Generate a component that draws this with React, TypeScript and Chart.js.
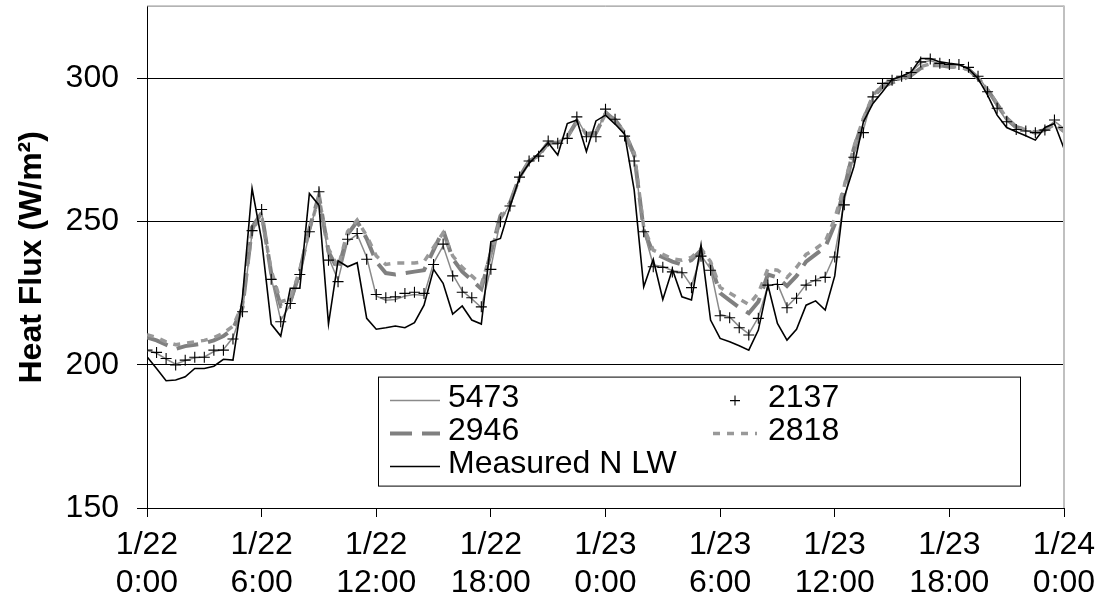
import React, { useEffect, useRef } from 'react';
import { Chart, registerables } from 'chart.js';

Chart.register(...registerables);

// time step between samples (hours), starting 1/22 0:00
const STEP_HOURS = 0.5;

const series5473 = [
  205, 204, 202, 200.2, 201.5, 202.4, 202.7, 204.6, 205.3, 209.5,
  219, 246, 253.5, 230.5, 215.5, 221, 231, 246, 259.5, 237.5,
  229.5, 243, 245.5, 237.5, 224, 222.5, 222.8, 224, 224.5, 224.2,
  235.5, 241.5, 231.5, 225.8, 223, 220, 233.8, 250.5, 256, 265.2,
  271, 272.5, 277.8, 277.6, 279.3, 286, 280, 280.2, 288.7, 285.8,
  280.2, 272, 246.8, 234.8, 234.3, 232.8, 232.4, 227.5, 238.2, 233.4,
  217.5, 216.7, 213.3, 210.8, 216.5, 227.5, 228.3, 220.3, 223.6, 228.1,
  229.6, 230.9, 238.5, 257, 273.5, 282, 294, 298, 299.5, 300.6,
  302.2, 305.3, 306.2, 305, 304.6, 304.5, 303.6, 300.8, 295.8, 290,
  285.2, 282.3, 281.7, 281.1, 282, 285, 282.5,
];

const series2137 = [
  205.1, 204.3, 202.2, 199.9, 201.6, 202.6, 202.6, 205.1, 205.1, 209,
  218.5, 246.8, 254.2, 229.8, 215, 221.4, 231.5, 246.4, 260.4, 236.5,
  229, 243.8, 245.8, 236.8, 224.5, 223.4, 223.7, 224.9, 225.3, 224.9,
  235, 242.1, 231, 225.3, 223.4, 220.2, 233.3, 249.9, 255.4, 265.5,
  271.1, 272.8, 278.1, 277.3, 279, 286.5, 279.6, 279.6, 289.2, 285.7,
  279.8, 271.1, 246.4, 234.2, 234, 232.4, 232.1, 226.9, 237.9, 233,
  217.1, 216.4, 212.9, 210.4, 216.2, 227.8, 228, 219.9, 223.2, 227.8,
  229.3, 230.5, 237.6, 255.8, 272.4, 281, 293.5, 298.2, 299.3, 300.7,
  302, 305.7, 306.7, 305.2, 304.8, 304.8, 303.8, 300.7, 295.3, 289.5,
  284.8, 282.1, 281.6, 281, 281.9, 285.4, 282.8,
];

const series2946 = [
  209.5, 208.5, 207, 205.5, 206.5, 207, 207.5, 208.5, 210, 212.5,
  220, 248, 253, 232, 220.5, 222, 232.5, 247.5, 259, 239.5,
  233, 245.5, 250, 244, 236, 232, 231.5, 232, 232.5, 233,
  240, 247, 237, 232.5, 229.5, 226.5, 239, 252, 256.5, 265.5,
  271, 273, 277.5, 277.5, 279.5, 285, 280.5, 281, 287.5, 285.5,
  281, 273.5, 247, 239, 237.5, 236, 235, 236.5, 240, 235,
  225, 222.5, 220, 218, 222, 231.5, 230.5, 227.5, 231, 236,
  238.5, 241, 249, 261.5, 275.5, 285.5, 293.5, 297, 298.5, 299.5,
  301, 303.5, 304.5, 304.5, 304, 304, 303, 300, 296, 291,
  286, 283, 282, 281, 282, 284, 281.5,
];

const series2818 = [
  210.5, 209.5, 208, 207, 207.5, 208, 208.5, 209.5, 211, 213.5,
  221, 247, 252, 233, 222, 223, 233, 247, 258.5, 240.5,
  234, 246.5, 250.5, 245, 238, 235, 235.5, 235.5, 235.5, 236,
  241, 246, 238, 234, 231, 228, 239, 251, 256, 265.5,
  271, 273, 277.5, 277.5, 279.5, 285, 280.5, 281, 287.5, 285.5,
  281, 274, 248, 240, 238.5, 237, 236.5, 237.5, 240.5, 236,
  227, 225, 223, 221, 225, 233.5, 233, 230.5, 234, 238.5,
  240.5, 243, 251, 262.5, 276, 286, 294, 297.5, 299, 300,
  301.5, 304, 305, 304.5, 304, 304, 303, 300, 296, 291,
  286, 283, 282, 281, 282, 284, 281.5,
];

const measuredNLW = [
  202.8, 198.7, 194.4, 194.7, 195.8, 198.7, 198.7, 199.5, 201.9, 201.6,
  223.7, 261.5, 243.5, 214.2, 210, 226.7, 226.7, 259.8, 255.7, 214.2,
  236.3, 234.2, 235.6, 216.2, 212.4, 212.9, 213.5, 212.9, 214.7, 220.8,
  233.3, 228.4, 217.7, 220.5, 215.6, 214.2, 242.9, 244.1, 255.1, 265.3,
  270.3, 273.8, 277.5, 273.2, 284.2, 285.4, 274.4, 285.1, 287.1, 284,
  280.5, 261, 227.2, 236.8, 222.8, 233.3, 223.7, 222.6, 241.8, 215.6,
  209.2, 208, 206.6, 205.1, 212.1, 227.8, 214.4, 208.6, 212.4, 220.8,
  222.3, 219.1, 231, 258.6, 269.1, 284.8, 291.2, 295.3, 299.6, 300.7,
  302.2, 306.9, 306.9, 305.7, 305.2, 304.8, 303.3, 299.9, 294.1, 287.1,
  282.8, 281.3, 279.9, 278.4, 282.8, 284.2, 275.5,
];

const xTickDates = ['1/22', '1/22', '1/22', '1/22', '1/23', '1/23', '1/23', '1/23', '1/24'];
const xTickTimes = ['0:00', '6:00', '12:00', '18:00', '0:00', '6:00', '12:00', '18:00', '0:00'];
const X_TICK_STEP = 6;
const Y_MIN = 150;
const Y_MAX = 325;
const Y_STEP = 50;

const FONT = "'Liberation Sans', Arial, Helvetica, sans-serif";

const toPoints = (vals: number[]) => vals.map((v, i) => ({ x: i * STEP_HOURS, y: v }));

type LegendItem = {
  label: string;
  col: number;
  row: number;
  kind: 'line' | 'cross';
  color: string;
  width: number;
  dash: number[];
};

const legendItems: LegendItem[] = [
  { label: '5473', col: 0, row: 0, kind: 'line', color: '#8a8a8a', width: 1.5, dash: [] },
  { label: '2137', col: 1, row: 0, kind: 'cross', color: '#000000', width: 1.1, dash: [] },
  { label: '2946', col: 0, row: 1, kind: 'line', color: '#808080', width: 4, dash: [22, 10] },
  { label: '2818', col: 1, row: 1, kind: 'line', color: '#999999', width: 3.5, dash: [7, 7] },
  { label: 'Measured N LW', col: 0, row: 2, kind: 'line', color: '#000000', width: 1.5, dash: [] },
];

const framePlugin = {
  id: 'frameAndLegend',
  afterDraw(chart: any) {
    const { ctx, chartArea } = chart;
    const { left, top, right, bottom } = chartArea;
    ctx.save();
    // top border
    ctx.strokeStyle = '#808080';
    ctx.lineWidth = 1;
    ctx.beginPath();
    ctx.moveTo(left, top - 0.5);
    ctx.lineTo(right, top - 0.5);
    ctx.stroke();
    // right border
    ctx.strokeStyle = '#c0c0c0';
    ctx.lineWidth = 2;
    ctx.beginPath();
    ctx.moveTo(right, top - 1);
    ctx.lineTo(right, bottom);
    ctx.stroke();

    // legend box
    const bx = left + 231;
    const by = top + 370;
    const bw = 642;
    const bh = 109;
    ctx.fillStyle = '#ffffff';
    ctx.fillRect(bx, by, bw, bh);
    ctx.strokeStyle = '#000000';
    ctx.lineWidth = 1;
    ctx.strokeRect(bx + 0.5, by + 0.5, bw, bh);

    const rowY = [22, 55, 88];
    const cols = [
      { s0: 12, s1: 62, tx: 70 },
      { s0: 335, s1: 379, tx: 390 },
    ];
    ctx.font = `32px ${FONT}`;
    ctx.textBaseline = 'middle';
    ctx.textAlign = 'left';
    for (const it of legendItems) {
      const c = cols[it.col];
      const y = by + rowY[it.row];
      if (it.kind === 'line') {
        ctx.strokeStyle = it.color;
        ctx.lineWidth = it.width;
        ctx.setLineDash(it.dash);
        ctx.beginPath();
        ctx.moveTo(bx + c.s0, y + 2);
        ctx.lineTo(bx + c.s1, y + 2);
        ctx.stroke();
        ctx.setLineDash([]);
      } else {
        const cx = bx + (c.s0 + c.s1) / 2;
        ctx.strokeStyle = it.color;
        ctx.lineWidth = it.width;
        ctx.beginPath();
        ctx.moveTo(cx - 5, y + 2);
        ctx.lineTo(cx + 5, y + 2);
        ctx.moveTo(cx, y - 3);
        ctx.lineTo(cx, y + 7);
        ctx.stroke();
      }
      ctx.fillStyle = '#000000';
      ctx.fillText(it.label, bx + c.tx, y);
    }
    ctx.restore();
  },
};

export default function App() {
  const canvasRef = useRef<HTMLCanvasElement>(null);

  useEffect(() => {
    const canvas = canvasRef.current;
    if (!canvas) return;
    const chart = new Chart(canvas, {
      type: 'line',
      data: {
        datasets: [
          {
            label: '2137',
            data: toPoints(series2137),
            showLine: false,
            pointStyle: 'cross',
            pointRadius: 5.5,
            pointBorderColor: '#000000',
            pointBorderWidth: 1.1,
            borderColor: '#000000',
            backgroundColor: '#000000',
          },
          {
            label: 'Measured N LW',
            data: toPoints(measuredNLW),
            borderColor: '#000000',
            borderWidth: 1.6,
            pointRadius: 0,
            tension: 0,
          },
          {
            label: '5473',
            data: toPoints(series5473),
            borderColor: '#8a8a8a',
            borderWidth: 1.5,
            pointRadius: 0,
            tension: 0,
          },
          {
            label: '2818',
            data: toPoints(series2818),
            borderColor: '#999999',
            borderWidth: 3.5,
            borderDash: [7, 7],
            pointRadius: 0,
            tension: 0,
          },
          {
            label: '2946',
            data: toPoints(series2946),
            borderColor: '#808080',
            borderWidth: 4,
            borderDash: [22, 10],
            pointRadius: 0,
            tension: 0,
          },
        ],
      },
      options: {
        responsive: false,
        devicePixelRatio: 1,
        animation: false,
        layout: { padding: { top: 6, right: 42, bottom: 0, left: 0 } },
        plugins: {
          legend: { display: false },
          tooltip: { enabled: false },
        },
        scales: {
          x: {
            type: 'linear',
            min: 0,
            max: (xTickDates.length - 1) * X_TICK_STEP,
            ticks: {
              stepSize: X_TICK_STEP,
              autoSkip: false,
              maxRotation: 0,
              minRotation: 0,
              padding: 9,
              color: '#000000',
              font: { family: FONT, size: 32, lineHeight: 1.2 },
              callback: (v: any) => {
                const k = Math.round(Number(v) / X_TICK_STEP);
                return [xTickDates[k], xTickTimes[k]];
              },
            },
            grid: {
              drawOnChartArea: false,
              drawTicks: true,
              tickLength: 9,
              color: '#000000',
              lineWidth: 1,
            },
            border: { display: true, color: '#000000', width: 1 },
            afterFit: (s: any) => {
              s.height = 107;
              s.paddingLeft = 0;
              s.paddingRight = 0;
            },
          },
          y: {
            type: 'linear',
            min: Y_MIN,
            max: Y_MAX,
            ticks: {
              stepSize: Y_STEP,
              includeBounds: false,
              padding: 18,
              color: '#000000',
              font: { family: FONT, size: 32 },
              callback: (v: any) => String(v),
            },
            grid: {
              color: '#000000',
              lineWidth: 1,
              tickLength: 10,
            },
            border: { display: true, color: '#000000', width: 1 },
            title: {
              display: true,
              text: 'Heat Flux (W/m²)',
              color: '#000000',
              font: { family: FONT, size: 32, weight: 'bold' },
              padding: { top: 13, bottom: 0 },
            },
            afterFit: (s: any) => {
              s.width = 147;
              s.paddingTop = 0;
              s.paddingBottom = 0;
            },
          },
        },
      } as any,
      plugins: [framePlugin],
    });
    return () => chart.destroy();
  }, []);

  return (
    <div style={{ position: 'absolute', left: 0, top: 0, width: 1106, height: 615, background: '#ffffff' }}>
      <canvas ref={canvasRef} width={1106} height={615} style={{ display: 'block', width: 1106, height: 615 }} />
    </div>
  );
}
